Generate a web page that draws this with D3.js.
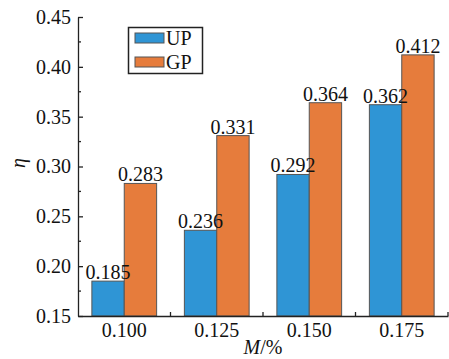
<!DOCTYPE html>
<html>
<head>
<meta charset="utf-8">
<script src="https://cdn.jsdelivr.net/npm/d3@7/dist/d3.min.js"></script>
<style>
  html, body { margin: 0; padding: 0; background: #fff; }
</style>
</head>
<body>
<svg id="chart" width="449" height="359"></svg>
<script>
// Fibre content M (%) and efficiency η for the two specimen types
const categories = ["0.100", "0.125", "0.150", "0.175"];
const seriesNames = ["UP", "GP"];
const upValues = [0.185, 0.236, 0.292, 0.362];
const gpValues = [0.283, 0.331, 0.364, 0.412];
const yTicks = [0.15, 0.20, 0.25, 0.30, 0.35, 0.40, 0.45];
const yMinorTicks = [0.175, 0.225, 0.275, 0.325, 0.375, 0.425];
const colors = { UP: "#2f95d5", GP: "#e67c3c" };

const serif = "'Liberation Serif', 'Times New Roman', serif";
const fontSize = 20;
const svg = d3.select("#chart").style("font-family", serif);
const plotLeft = 78, plotRight = 448, plotTop = 17, plotBottom = 316;

const x = d3.scaleBand().domain(categories).range([plotLeft, plotRight])
  .paddingInner(0.3).paddingOuter(0.15);
const xs = d3.scaleBand().domain(seriesNames).range([0, x.bandwidth()]);
const y = d3.scaleLinear().domain([0.15, 0.45]).range([plotBottom, plotTop]);

const rows = categories.map((c, i) => ({ cat: c, UP: upValues[i], GP: gpValues[i] }));

// bars
const groups = svg.append("g").selectAll("g").data(rows).join("g")
  .attr("transform", d => `translate(${x(d.cat)},0)`);
groups.selectAll("rect").data(d => seriesNames.map(s => ({ s, v: d[s] }))).join("rect")
  .attr("x", d => xs(d.s))
  .attr("y", d => y(d.v))
  .attr("width", xs.bandwidth())
  .attr("height", d => y(0.15) - y(d.v))
  .attr("fill", d => colors[d.s])
  .attr("stroke", "#555")
  .attr("stroke-width", 1);
groups.selectAll("text").data(d => seriesNames.map(s => ({ s, v: d[s] }))).join("text")
  .attr("x", d => xs(d.s) + xs.bandwidth() / 2)
  .attr("y", d => y(d.v) - 2)
  .attr("text-anchor", "middle")
  .style("font-family", serif)
  .style("font-size", fontSize + "px")
  .attr("fill", "#111")
  .text(d => d.v.toFixed(3));

// y axis
const yAxis = svg.append("g").attr("transform", `translate(${plotLeft},0)`)
  .call(d3.axisLeft(y).tickValues(yTicks).tickFormat(d3.format(".2f")).tickSizeInner(-5).tickSizeOuter(0).tickPadding(6))
  .attr("font-family", null).attr("font-size", null);
yAxis.select(".domain").attr("stroke", "#222").attr("stroke-width", 1.3);
yAxis.selectAll(".tick line").attr("stroke", "#222").attr("stroke-width", 1.3);
yAxis.selectAll(".tick text")
  .style("font-family", serif).style("font-size", fontSize + "px")
  .attr("fill", "#111").attr("dx", "-1");
svg.append("g").selectAll("line").data(yMinorTicks).join("line")
  .attr("x1", plotLeft).attr("x2", plotLeft + 3)
  .attr("y1", d => y(d)).attr("y2", d => y(d))
  .attr("stroke", "#222").attr("stroke-width", 1.3);

// x axis
const xAxis = svg.append("g").attr("transform", `translate(0,${plotBottom})`)
  .call(d3.axisBottom(x).tickSize(0).tickPadding(7))
  .attr("font-family", null).attr("font-size", null);
xAxis.select(".domain").attr("stroke", "#222").attr("stroke-width", 1.3);
xAxis.selectAll(".tick text")
  .style("font-family", serif).style("font-size", fontSize + "px")
  .attr("fill", "#111");
const bounds = categories.slice(1).map(c => x(c) - x.step() * x.paddingInner() / 2).concat([plotRight]);
svg.append("g").selectAll("line").data(bounds).join("line")
  .attr("x1", d => d).attr("x2", d => d)
  .attr("y1", plotBottom).attr("y2", plotBottom - 4)
  .attr("stroke", "#222").attr("stroke-width", 1.3);

// axis titles
const xt = svg.append("text").attr("x", 263).attr("y", 354)
  .attr("text-anchor", "middle").style("font-size", fontSize + "px").attr("fill", "#111");
xt.append("tspan").attr("font-style", "italic").text("M");
xt.append("tspan").text("/%");
svg.append("text").attr("transform", "translate(25,163) rotate(-90)")
  .attr("text-anchor", "middle").style("font-size", fontSize + "px").attr("font-style", "italic")
  .attr("fill", "#111").text("η");

// legend
const lg = svg.append("g");
lg.append("rect").attr("x", 128.5).attr("y", 27.5).attr("width", 74).attr("height", 46)
  .attr("fill", "#fff").attr("stroke", "#222").attr("stroke-width", 1.5);
seriesNames.forEach((s, i) => {
  lg.append("rect").attr("x", 135).attr("y", 33 + i * 24).attr("width", 29).attr("height", 10)
    .attr("fill", colors[s]).attr("stroke", "#555").attr("stroke-width", 1);
  lg.append("text").attr("x", 166).attr("y", 45 + i * 24).style("font-size", fontSize + "px")
    .attr("fill", "#111").text(s);
});
</script>
</body>
</html>
